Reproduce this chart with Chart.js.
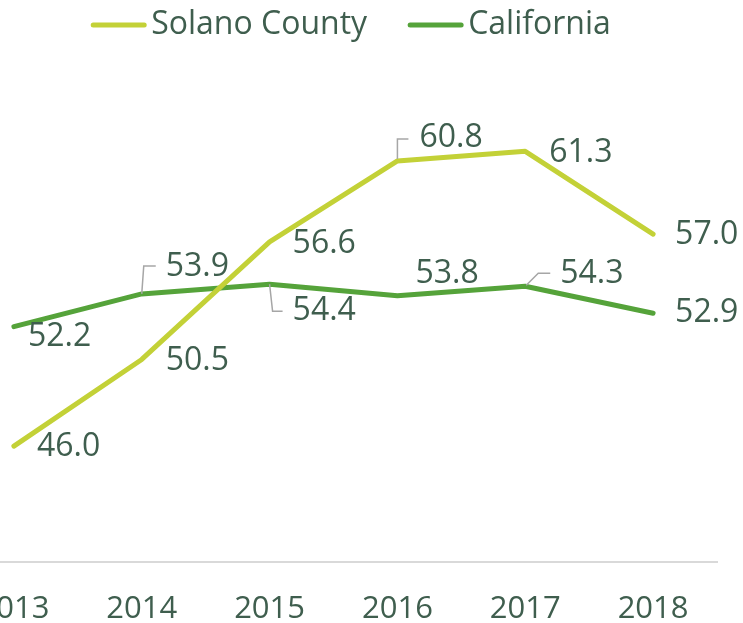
<!DOCTYPE html>
<html>
<head>
<meta charset="utf-8">
<script src="https://cdn.jsdelivr.net/npm/chart.js@4"></script>
<style>
  html, body { margin: 0; padding: 0; background: #fff; overflow: hidden; }
  #wrap { position: absolute; left: -50px; top: 0; width: 793px; height: 649px; }
</style>
</head>
<body>
<div id="wrap"><canvas id="chart"></canvas></div>
<script>
const years = ['2013', '2014', '2015', '2016', '2017', '2018'];
const solano = [46.0, 50.5, 56.6, 60.8, 61.3, 57.0];
const california = [52.2, 53.9, 54.4, 53.8, 54.3, 52.9];

const TEXT = '#3f5e4e';
const FONT = "'Open Sans', sans-serif";
const SHIFT = 50; // canvas sits 50px left of the page

// where each value label goes, relative to its point: [dx of text left, dy of text middle]
const labelPos = [
  [[23, 1], [24, 1], [23, 2], [22, -23], [24, 2], [22, 1]],
  [[14, 10], [24, -27], [23, 27], [18, -22], [35, -12], [22, 0]]
];
// leader lines, also relative to the point
const leaders = [
  [null, null, null, [[0, -2], [0, -22], [11, -22]], null, null],
  [null, [[0, 0], [2, -28], [14, -28]], [[0, 0], [3, 27], [13, 27]], null, [[1, -1], [13, -13], [25, -13]], null]
];

const valueLabels = {
  id: 'valueLabels',
  afterDatasetsDraw(chart) {
    const ctx = chart.ctx;
    ctx.save();
    chart.data.datasets.forEach((ds, di) => {
      const meta = chart.getDatasetMeta(di);
      meta.data.forEach((pt, i) => {
        const lead = leaders[di][i];
        if (lead) {
          ctx.beginPath();
          ctx.strokeStyle = '#a6a6a6';
          ctx.lineWidth = 1.5;
          lead.forEach(([lx, ly], k) => {
            if (k === 0) ctx.moveTo(pt.x + lx, pt.y + ly);
            else ctx.lineTo(pt.x + lx, pt.y + ly);
          });
          ctx.stroke();
        }
        const [dx, dy] = labelPos[di][i];
        ctx.fillStyle = TEXT;
        ctx.font = `32px ${FONT}`;
        ctx.textAlign = 'left';
        ctx.textBaseline = 'middle';
        ctx.fillText(ds.data[i].toFixed(1), pt.x + dx, pt.y + dy);
      });
    });
    ctx.restore();
  }
};

// legend drawn by hand so it can sit where the original one sits
const lineLegend = {
  id: 'lineLegend',
  afterDraw(chart) {
    const ctx = chart.ctx;
    ctx.save();
    ctx.font = `32px ${FONT}`;
    ctx.textBaseline = 'middle';
    ctx.textAlign = 'left';
    const lineW = 55, gapText = 5, gapItem = 41, y = 25;
    const widths = chart.data.datasets.map(ds => ctx.measureText(ds.label).width);
    const total = widths.reduce((a, w) => a + lineW + gapText + w, 0) + gapItem;
    let x = 351 + SHIFT - total / 2;
    chart.data.datasets.forEach((ds, i) => {
      ctx.beginPath();
      ctx.strokeStyle = ds.borderColor;
      ctx.lineWidth = 5;
      ctx.lineCap = 'round';
      ctx.moveTo(x + 2, y);
      ctx.lineTo(x + lineW - 2, y);
      ctx.stroke();
      ctx.fillStyle = TEXT;
      ctx.fillText(ds.label, x + lineW + gapText, y);
      x += lineW + gapText + widths[i] + gapItem;
    });
    ctx.restore();
  }
};

new Chart(document.getElementById('chart'), {
  type: 'line',
  data: {
    labels: years,
    datasets: [
      {
        label: 'Solano County',
        data: solano,
        borderColor: '#c3d137',
        backgroundColor: '#c3d137',
        borderWidth: 5,
        borderCapStyle: 'round',
        borderJoinStyle: 'round',
        pointRadius: 0,
        tension: 0
      },
      {
        label: 'California',
        data: california,
        borderColor: '#55a33a',
        backgroundColor: '#55a33a',
        borderWidth: 5,
        borderCapStyle: 'round',
        borderJoinStyle: 'round',
        pointRadius: 0,
        tension: 0
      }
    ]
  },
  options: {
    responsive: true,
    maintainAspectRatio: false,
    animation: false,
    layout: { padding: { top: 80, right: 26, bottom: 0, left: 0 } },
    plugins: {
      legend: { display: false },
      tooltip: { enabled: false }
    },
    scales: {
      x: {
        offset: true,
        grid: { display: false },
        border: { display: true, color: '#d9d9d9', width: 2 },
        ticks: {
          color: TEXT,
          padding: 21,
          font: { size: 31, family: FONT }
        }
      },
      y: {
        display: false,
        min: 40,
        max: 65
      }
    }
  },
  plugins: [valueLabels, lineLegend]
});
</script>
</body>
</html>
